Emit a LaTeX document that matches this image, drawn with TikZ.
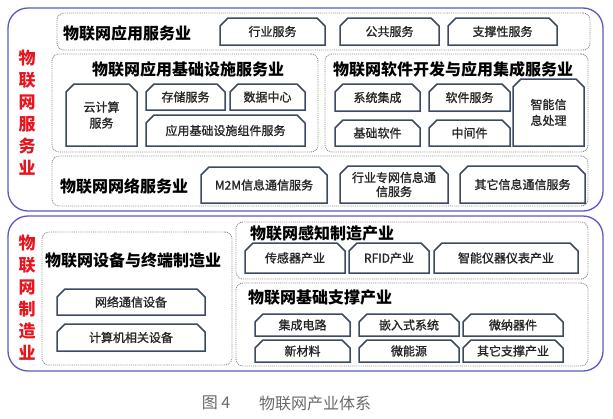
\documentclass[tikz,border=0pt]{standalone}
\usepackage{fontspec}
\setmainfont{Noto Sans CJK SC}
\newfontfamily\semibf[FakeBold=1.2]{Noto Sans CJK SC}
\usetikzlibrary{shapes.misc,shadows}
\definecolor{outerc}{HTML}{5A5AC0}
\definecolor{boxc}{HTML}{3D4A60}
\definecolor{grpc}{HTML}{8A8A8A}
\definecolor{redc}{HTML}{E8141E}
\definecolor{capc}{HTML}{6A6A6A}
\newcommand\mkbox[7]{%
  \pgfmathsetmacro\bcx{(#3+#5)/2}%
  \pgfmathsetmacro\bcy{(#4+#6)/2}%
  \pgfmathsetmacro\bw{#5-#3}%
  \pgfmathsetmacro\bh{#6-#4}%
  \node[#1,minimum width=\bw pt,minimum height=\bh pt] (#2) at (\bcx,\bcy) {#7};}
\tikzset{
  ibox/.style={chamfered rectangle, chamfered rectangle corners={north west,north east},
    chamfered rectangle xsep=4pt, chamfered rectangle ysep=4pt,
    draw=boxc, line width=1.5pt, fill=white, inner sep=0pt, align=center,
    font=\semibf\fontsize{12}{16}\selectfont, text=black!85,
    drop shadow={shadow xshift=1.2pt, shadow yshift=-1.2pt, opacity=0.3, fill=gray}},
  grp/.style={rectangle, draw=grpc, densely dotted, line width=0.9pt, rounded corners=7pt,
    fill=white, inner sep=0pt},
  outer/.style={rectangle, draw=outerc, line width=1.3pt, rounded corners=20pt, inner sep=0pt},
  ttl/.style={font=\bfseries\fontsize{16}{18}\selectfont, inner sep=0pt},
  redlbl/.style={font=\bfseries\fontsize{17}{22}\selectfont, text=redc, align=center, inner sep=0pt},
  captext/.style={font=\fontsize{16}{18}\selectfont, text=capc, inner sep=0pt}
}
\begin{document}
\begin{tikzpicture}[x=1pt,y=-1pt]
\useasboundingbox[fill=white] (0,0) rectangle (613,418);
% outer sections
\mkbox{outer}{o1}{8}{8}{603}{211}{}
\mkbox{outer}{o2}{8}{216}{603}{371}{}
% group boxes
\mkbox{grp}{g1}{57}{13}{590}{50}{}
\mkbox{grp}{g2}{52}{54}{318}{152}{}
\mkbox{grp}{g3}{325}{54}{588}{152}{}
\mkbox{grp}{g4}{52}{156}{588}{206}{}
\mkbox{grp}{g5}{42}{232}{232}{365}{}
\mkbox{grp}{g6}{236}{222}{588}{279}{}
\mkbox{grp}{g7}{236}{283}{588}{366}{}
% red labels
\node[redlbl] (r1) at (27,113) {物\\联\\网\\服\\务\\业};
\node[redlbl] (r2) at (27,297.5) {物\\联\\网\\制\\造\\业};
% titles
\node[ttl,anchor=west] (t1) at (63,33) {物联网应用服务业};
\node[ttl] (t2) at (188,69) {物联网应用基础设施服务业};
\node[ttl,anchor=west] (t3) at (333,69) {物联网软件开发与应用集成服务业};
\node[ttl,anchor=west] (t4) at (60,186) {物联网网络服务业};
\node[ttl,anchor=west] (t5) at (45,260) {物联网设备与终端制造业};
\node[ttl,anchor=west] (t6) at (250,233) {物联网感知制造产业};
\node[ttl,anchor=west] (t7) at (248,297) {物联网基础支撑产业};
% inner boxes
\mkbox{ibox}{b1}{220}{18}{325}{45}{行业服务}
\mkbox{ibox}{b2}{340}{18}{439}{45}{公共服务}
\mkbox{ibox}{b3}{448}{18}{557}{45}{支撑性服务}
\mkbox{ibox}{b4}{66}{84}{137}{146}{云计算\\服务}
\mkbox{ibox}{b5}{146}{84}{225}{110}{存储服务}
\mkbox{ibox}{b6}{230}{84}{305}{110}{数据中心}
\mkbox{ibox}{b7}{146}{115}{305}{146}{应用基础设施组件服务}
\mkbox{ibox}{b8}{335}{84}{420}{111}{系统集成}
\mkbox{ibox}{b9}{429}{84}{510}{111}{软件服务}
\mkbox{ibox}{b10}{513}{79}{584}{146}{智能信\\息处理}
\mkbox{ibox}{b11}{335}{120}{420}{146}{基础软件}
\mkbox{ibox}{b12}{429}{120}{510}{146}{中间件}
\mkbox{ibox}{b13}{201}{167}{327}{203}{M2M信息通信服务}
\mkbox{ibox,font=\semibf\fontsize{12}{14}\selectfont}{b14}{340}{166}{448}{203}{行业专网信息通\\信服务}
\mkbox{ibox}{b15}{460}{166}{585}{203}{其它信息通信服务}
\mkbox{ibox}{b16}{57}{289}{205}{315}{网络通信设备}
\mkbox{ibox}{b17}{57}{324}{205}{351}{计算机相关设备}
\mkbox{ibox}{b18}{245}{243}{345}{273}{传感器产业}
\mkbox{ibox}{b19}{349}{243}{429}{273}{RFID产业}
\mkbox{ibox}{b20}{434}{243}{578}{273}{智能仪器仪表产业}
\mkbox{ibox}{b21}{255}{314}{350}{336}{集成电路}
\mkbox{ibox}{b22}{359}{314}{459}{336}{嵌入式系统}
\mkbox{ibox}{b23}{463}{314}{563}{336}{微纳器件}
\mkbox{ibox}{b24}{255}{340}{350}{362}{新材料}
\mkbox{ibox}{b25}{359}{340}{459}{362}{微能源}
\mkbox{ibox}{b26}{463}{340}{563}{362}{其它支撑产业}
% caption
\node[captext] (c1) at (216,403) {图 4};
\node[captext] (c2) at (315,403) {物联网产业体系};
\end{tikzpicture}
\end{document}
